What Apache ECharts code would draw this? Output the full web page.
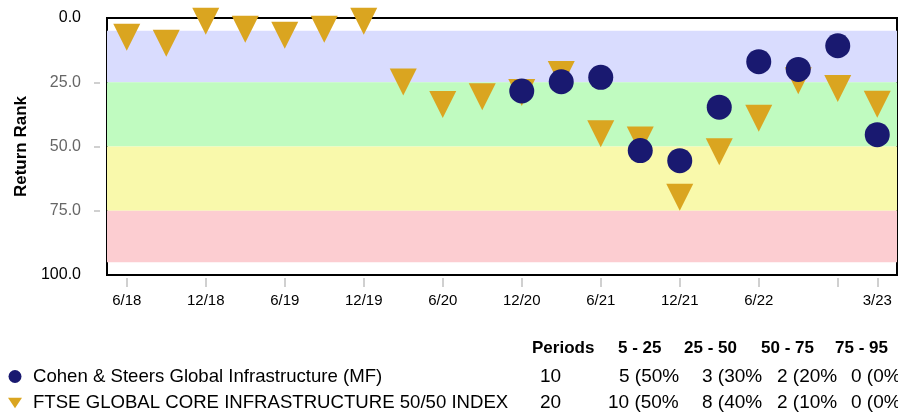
<!DOCTYPE html>
<html>
<head>
<meta charset="utf-8">
<script src="https://cdn.jsdelivr.net/npm/echarts@6/dist/echarts.min.js"></script>
<style>html,body{margin:0;padding:0;background:#fff}#c{width:898px;height:413px}</style>
</head>
<body>
<div id="c"></div>
<script>
const quarters = ['6/18','9/18','12/18','3/19','6/19','9/19','12/19','3/20','6/20','9/20','12/20','3/21','6/21','9/21','12/21','3/22','6/22','9/22','12/22','3/23'];
const indexName = 'FTSE GLOBAL CORE INFRASTRUCTURE 50/50 INDEX';
const fundName = 'Cohen & Steers Global Infrastructure (MF)';
const indexRank = [7.5,9.8,1.3,4.4,6.7,4.4,1.3,24.9,33.7,30.6,29.0,22.0,45.0,47.5,69.7,52.0,39.0,24.4,27.4,33.6];
const fundRank = ['-','-','-','-','-','-','-','-','-','-',28.4,24.8,23.1,51.6,55.5,34.7,17.0,20.0,10.8,45.4];
const yTicks = [0,25,50,75,100];
const bands = [[5,25],[25,50],[50,75],[75,95]];
const bandColors = ['#D9DCFE','#C0FBC0','#F9F9AB','#FCCDD1'];
const tableHeaders = ['Periods','5 - 25','25 - 50','50 - 75','75 - 95'];
const fundStats = ['10','5 (50%)','3 (30%)','2 (20%)','0 (0%)'];
const indexStats = ['20','10 (50%)','8 (40%)','2 (10%)','0 (0%)'];

const FONT = "'Liberation Sans', Arial, Helvetica, sans-serif";
const chart = echarts.init(document.getElementById('c'), null, {renderer:'canvas'});

const headerX = [532,618,684,761,835];
const cellX = [[540,619,702,777,851],[540,608,702,777,851]];
const cellW = [[40,40],[62,72],[62,62],[62,62],[70,70]];
const graphics = [];
tableHeaders.forEach((t,i)=>graphics.push({type:'text',left:headerX[i],top:340,style:{text:t,font:'bold 17px '+FONT,fill:'#000'}}));
[fundStats,indexStats].forEach((row,r)=>{
  row.forEach((t,i)=>{
    graphics.push({type:'text',left:cellX[r][i],top:(r===0?367:393),
      style:{text:t,font:'19px '+FONT,fill:'#000',width:cellW[i][r],overflow:'truncate',ellipsis:''}});
  });
});

const option = {
  animation:false,
  textStyle:{fontFamily:FONT},
  grid:{left:107,top:18,width:790,height:257,show:true,borderColor:'#000',borderWidth:2,backgroundColor:'transparent',containLabel:false,outerBoundsMode:'none'},
  legend:{
    orient:'vertical',left:8,top:367,padding:0,itemWidth:14,itemHeight:13,itemGap:7.6,itemTextGap:11,
    textStyle:{fontSize:18.6,fontFamily:FONT,color:'#000',lineHeight:19,padding:[0,0,0,6]},
    itemStyle:{borderWidth:0},
    data:[{name:fundName,icon:'circle'},{name:indexName,icon:'path://M0,0L2,0L1,1.5Z'}],
    selectedMode:false
  },
  xAxis:{
    type:'category',data:quarters,boundaryGap:true,offset:3,position:'bottom',
    axisLine:{show:false,onZero:false},
    axisTick:{show:true,alignWithLabel:true,length:9,lineStyle:{color:'#d0d0d0',width:2},
      interval:(i)=>i%2===0||i===quarters.length-1},
    axisLabel:{fontSize:15,color:'#000',margin:15,fontFamily:FONT,
      interval:(i)=>(i%2===0&&i!==quarters.length-2)||i===quarters.length-1},
    splitLine:{show:false}
  },
  yAxis:{
    type:'value',inverse:true,min:0,max:100,interval:25,offset:7,
    name:'Return Rank',nameLocation:'middle',nameRotate:90,nameGap:70,
    nameTextStyle:{fontSize:17,fontWeight:'bold',color:'#000',fontFamily:FONT},
    axisLine:{show:false},
    axisTick:{show:true,length:6,customValues:[25,50,75],lineStyle:{color:'#d0d0d0',width:2}},
    axisLabel:{fontSize:16,margin:19,fontFamily:FONT,formatter:(v)=>v.toFixed(1),
      color:(v)=>(Number(v)===yTicks[0]||Number(v)===yTicks[yTicks.length-1])?'#000':'#666'},
    splitLine:{show:false}
  },
  series:[
    {
      name:indexName,type:'scatter',data:indexRank,clip:false,z:3,
      symbol:'path://M0,0L2,0L1,2Z',symbolSize:[27,27],
      itemStyle:{color:'#DAA520',opacity:1},
      markArea:{silent:true,z:1,
        data:bands.map((b,i)=>[{yAxis:b[0],itemStyle:{color:bandColors[i],opacity:1}},{yAxis:b[1]}])}
    },
    {
      name:fundName,type:'scatter',data:fundRank,clip:false,z:4,
      symbol:'circle',symbolSize:25,
      itemStyle:{color:'#191970',opacity:1}
    }
  ],
  graphic:graphics
};
chart.setOption(option);
</script>
</body>
</html>
